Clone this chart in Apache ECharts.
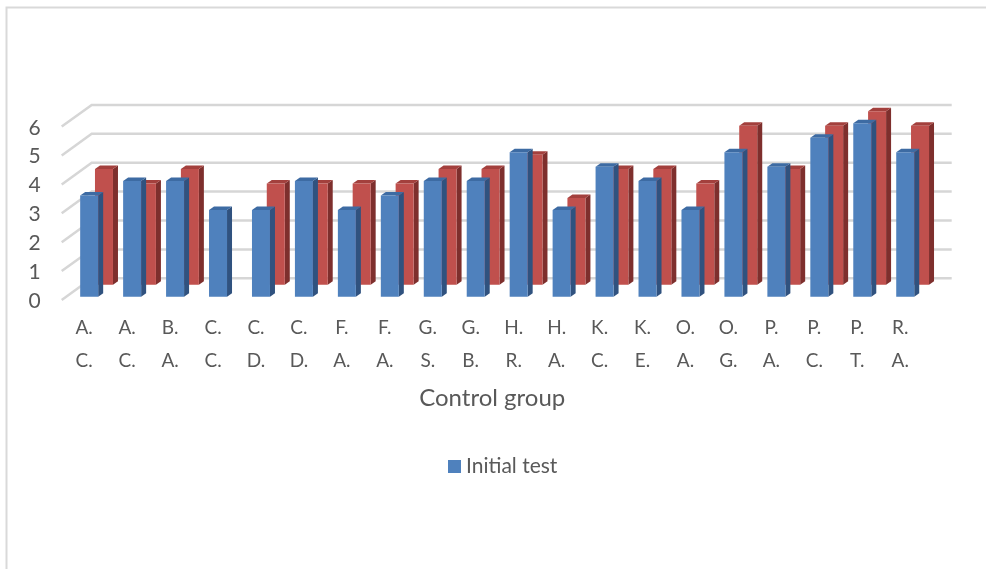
<!DOCTYPE html>
<html>
<head>
<meta charset="utf-8">
<script src="https://cdn.jsdelivr.net/npm/echarts@6/dist/echarts.min.js"></script>
<style>
html,body{margin:0;padding:0;background:#fff;}
#main{width:986px;height:569px;}
</style>
</head>
<body>
<div id="main"></div>
<script>
const categories = ['A.\nC.', 'A.\nC.', 'B.\nA.', 'C.\nC.', 'C.\nD.', 'C.\nD.', 'F.\nA.', 'F.\nA.', 'G.\nS.', 'G.\nB.', 'H.\nR.', 'H.\nA.', 'K.\nC.', 'K.\nE.', 'O.\nA.', 'O.\nG.', 'P.\nA.', 'P.\nC.', 'P.\nT.', 'R.\nA.'];
const initialTest = [3.5, 4, 4, 3, 3, 4, 3, 3.5, 4, 4, 5, 3, 4.5, 4, 3, 5, 4.5, 5.5, 6, 5];
const finalTest = [4, 3.5, 4, null, 3.5, 3.5, 3.5, 3.5, 4, 4, 4.5, 3, 4, 4, 3.5, 5.5, 4, 5.5, 6, 5.5];
const yTicks = [0, 1, 2, 3, 4, 5, 6];
const axisTitle = 'Control group';
const legendName = 'Initial test';
const hiddenName = 'Final test';

const FONT = 'Lato, "Noto Sans", sans-serif';
const TXT = '#595959';

function makeBar(shiftX, shiftY, front, side, top) {
  return function (params, api) {
    const v = api.value(1);
    if (v == null || isNaN(v)) return;
    const i = api.value(0);
    const b = api.coord([i, 0]);
    const t = api.coord([i, v]);
    const w = 18, dx = 5, dy = -3.5;
    const x1 = b[0] + shiftX - w / 2, x2 = x1 + w;
    const yb = b[1] + shiftY, yt = t[1] + shiftY;
    return {
      type: 'group',
      children: [
        { type: 'polygon', shape: { points: [[x2, yt], [x2 + dx, yt + dy], [x2 + dx, yb + dy], [x2, yb]] }, style: { fill: side } },
        { type: 'polygon', shape: { points: [[x1, yt], [x1 + dx, yt + dy], [x2 + dx, yt + dy], [x2, yt]] }, style: { fill: top } },
        { type: 'rect', shape: { x: x1, y: yt, width: w, height: yb - yt }, style: { fill: front } }
      ]
    };
  };
}

function wallItem(params, api) {
  const v = api.value(1);
  const p = api.coord([0, v]);
  const band = api.size([1, 0])[0];
  const left = p[0] - band / 2;
  const right = api.coord([categories.length - 1, v])[0] + band / 2;
  return {
    type: 'polyline',
    shape: { points: [[left - 1, p[1] + 3.3], [left + 29, p[1] - 18.4], [right + 30, p[1] - 18.4]] },
    style: { stroke: '#d6d6d6', lineWidth: 2.5, fill: null }
  };
}

const chart = echarts.init(document.getElementById('main'));
chart.setOption({
  animation: false,
  backgroundColor: '#fff',
  textStyle: { fontFamily: FONT },
  graphic: [
    { type: 'polyline', shape: { points: [[6.5, 569], [6.5, 7.5], [986, 7.5]] }, style: { stroke: '#d9d9d9', lineWidth: 2, fill: null }, silent: true }
  ],
  grid: { left: 62.7, top: 123.3, width: 859, height: 173.4, containLabel: false },
  legend: {
    data: [legendName],
    left: 448, top: 456, padding: 0,
    icon: 'rect', itemWidth: 13, itemHeight: 13,
    textStyle: { color: TXT, fontSize: 21, fontFamily: FONT },
    selectedMode: false
  },
  xAxis: {
    type: 'category',
    data: categories,
    boundaryGap: true,
    axisLine: { show: false },
    axisTick: { show: false },
    splitLine: { show: false },
    axisLabel: { color: TXT, fontSize: 19, lineHeight: 33, margin: 15, interval: 0, fontFamily: FONT },
    name: axisTitle,
    nameLocation: 'middle',
    nameGap: 90,
    nameTextStyle: { color: TXT, fontSize: 24, fontFamily: FONT }
  },
  yAxis: {
    type: 'value',
    min: 0, max: 6, interval: 1,
    axisLine: { show: false },
    axisTick: { show: false },
    splitLine: { show: false },
    axisLabel: { color: TXT, fontSize: 21, margin: 22, verticalAlign: 'top', lineHeight: 9, fontFamily: FONT }
  },
  series: [
    {
      type: 'custom', name: 'wall', silent: true, z: 1,
      renderItem: wallItem,
      data: yTicks.map(v => [0, v])
    },
    {
      type: 'custom', name: hiddenName, z: 2,
      itemStyle: { color: '#c0504d' },
      renderItem: makeBar(19.8, -12, '#c0504d', '#7e2f2d', '#a3403d'),
      data: finalTest.map((v, i) => [i, v])
    },
    {
      type: 'custom', name: legendName, z: 3,
      itemStyle: { color: '#4f81bd' },
      renderItem: makeBar(5, 0, '#4f81bd', '#30527f', '#3d6ba3'),
      data: initialTest.map((v, i) => [i, v])
    }
  ]
});
</script>
</body>
</html>
